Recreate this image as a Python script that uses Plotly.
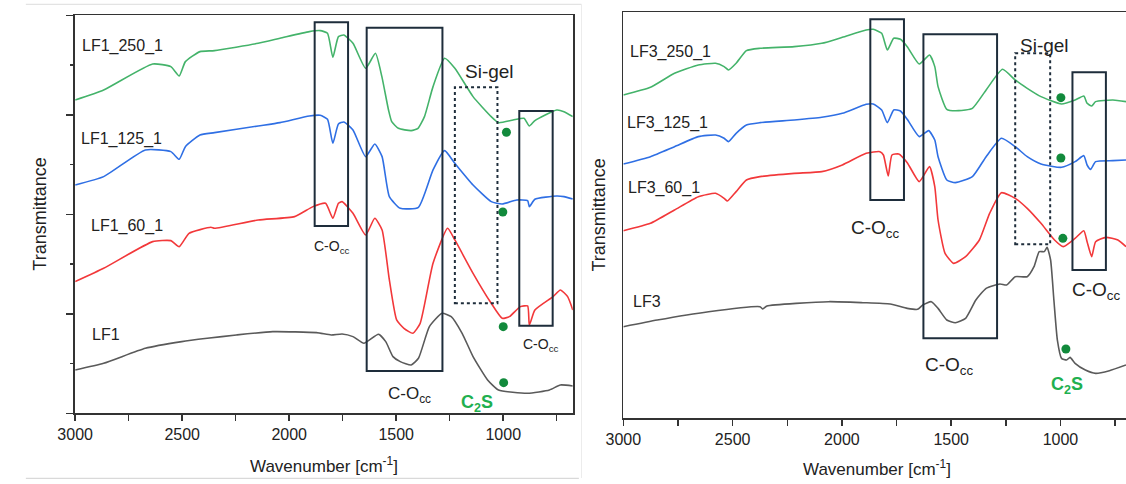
import plotly.graph_objects as go

# ---------------- Left panel (LF1) : wavenumber [cm-1] and transmittance (a.u.) ----------------
lf1_250_w = [3000, 2867, 2638, 2553, 2514, 2485, 2417, 2349, 2145, 2043, 1906, 1855, 1821, 1796, 1770, 1745,
             1702, 1643, 1597, 1567, 1536, 1521, 1490, 1430, 1398, 1368, 1328, 1274, 1226, 1141, 1056, 1022,
             954, 903, 878, 852, 750, 716, 675]
lf1_250_t = [940, 970, 1048, 1040, 1012, 1055, 1085, 1088, 1110, 1125, 1145, 1148, 1140, 1068, 1130, 1135,
             1110, 1035, 1080, 1010, 910, 875, 855, 848, 855, 890, 980, 1065, 1035, 950, 890, 872,
             880, 885, 862, 878, 910, 905, 890]

lf1_125_w = [3000, 2867, 2672, 2553, 2514, 2485, 2417, 2349, 2145, 2043, 1906, 1855, 1821, 1796, 1770, 1745,
             1702, 1643, 1600, 1566, 1532, 1481, 1396, 1328, 1274, 1226, 1141, 1056, 1005, 937, 886, 878,
             852, 750, 716, 675]
lf1_125_t = [685, 710, 790, 785, 762, 800, 835, 842, 862, 872, 892, 894, 882, 810, 868, 874,
             850, 770, 808, 770, 650, 615, 618, 730, 788, 750, 685, 635, 628, 640, 638, 620,
             642, 652, 650, 643]

lf1_60_w = [3000, 2867, 2638, 2553, 2514, 2468, 2366, 2349, 2145, 1975, 1889, 1830, 1796, 1770, 1753, 1702,
            1643, 1600, 1566, 1532, 1498, 1464, 1422, 1388, 1328, 1260, 1226, 1141, 1056, 1005, 971, 920,
            886, 878, 852, 767, 733, 699, 675]
lf1_60_t = [395, 435, 515, 518, 500, 540, 558, 555, 580, 590, 620, 630, 585, 630, 635, 600,
            535, 585, 550, 400, 280, 255, 240, 270, 450, 555, 520, 420, 330, 285, 290, 320,
            322, 265, 310, 350, 370, 350, 310]

lf1_w = [3000, 2867, 2672, 2502, 2383, 2247, 2077, 1872, 1804, 1753, 1702, 1651, 1583, 1549, 1515, 1481,
         1430, 1396, 1345, 1286, 1243, 1192, 1141, 1073, 1022, 886, 784, 733, 675]
lf1_t = [130, 150, 195, 215, 225, 235, 245, 242, 235, 238, 230, 210, 237, 215, 170, 155,
         145, 165, 260, 300, 290, 240, 170, 100, 70, 60, 70, 85, 82]

# ---------------- Right panel (LF3) ----------------
lf3_250_w = [3000, 2876, 2766, 2657, 2578, 2539, 2519, 2484, 2437, 2375, 2218, 2092, 1998, 1889, 1857, 1818,
             1792, 1763, 1732, 1701, 1646, 1599, 1575, 1560, 1520, 1466, 1403, 1340, 1265, 1207, 1152, 1089,
             995, 933, 893, 878, 857, 839, 760, 700]
lf3_250_t = [968, 991, 1033, 1058, 1063, 1053, 1043, 1063, 1101, 1108, 1113, 1123, 1141, 1163, 1165, 1153,
             1103, 1138, 1135, 1113, 1061, 1088, 1053, 993, 925, 921, 928, 983, 1045, 1013, 988, 963,
             941, 953, 965, 943, 935, 948, 953, 948]

lf3_125_w = [3000, 2876, 2766, 2657, 2578, 2539, 2519, 2484, 2437, 2375, 2218, 2092, 1998, 1889, 1857, 1818,
             1792, 1763, 1732, 1701, 1646, 1603, 1575, 1560, 1520, 1481, 1403, 1340, 1270, 1207, 1152, 1089,
             995, 933, 893, 878, 862, 839, 760, 700]
lf3_125_t = [761, 783, 813, 843, 848, 838, 828, 853, 878, 885, 893, 901, 913, 940, 941, 923,
             885, 923, 920, 895, 843, 861, 833, 783, 713, 705, 723, 783, 838, 813, 783, 761,
             751, 768, 786, 758, 745, 768, 771, 773]

lf3_60_w = [3000, 2876, 2766, 2657, 2578, 2539, 2524, 2484, 2437, 2375, 2218, 2092, 1998, 1889, 1826, 1810,
            1788, 1771, 1740, 1701, 1646, 1599, 1575, 1560, 1528, 1489, 1434, 1371, 1324, 1270, 1207, 1152,
            1089, 1027, 987, 933, 893, 878, 857, 839, 792, 737, 700]
lf3_60_t = [561, 583, 623, 663, 673, 658, 650, 678, 713, 723, 733, 738, 758, 793, 798, 788,
            725, 788, 791, 765, 708, 753, 693, 593, 493, 463, 483, 533, 613, 675, 658, 628,
            583, 533, 513, 538, 561, 528, 483, 528, 541, 533, 513]

lf3_w = [3000, 2845, 2610, 2375, 2362, 2343, 2061, 1904, 1779, 1701, 1654, 1630, 1591, 1560, 1520, 1481,
         1434, 1387, 1340, 1277, 1246, 1207, 1152, 1121, 1097, 1074, 1061, 1045, 1030, 1014, 995, 972,
         956, 933, 886, 839, 776, 700]
lf3_t = [273, 293, 318, 333, 326, 335, 348, 345, 341, 328, 325, 338, 348, 328, 293, 285,
         298, 353, 388, 401, 398, 423, 423, 453, 498, 498, 511, 473, 353, 233, 178, 173,
         181, 163, 143, 133, 141, 158]

# C2S markers
left_dot_w = [985, 1002, 1000, 998]
left_dot_t = [843, 604, 260, 92]
right_dot_w = [998, 998, 989, 975]
right_dot_t = [960, 779, 538, 206]

# band boxes [w_left, w_right, t_bottom, t_top]
left_boxes = [[1881, 1725, 562, 1173], [1638, 1284, 127, 1157], [925, 769, 263, 907]]
left_sigel = [1226, 1027, 330, 978]
right_boxes = [[1870, 1716, 653, 1195], [1627, 1290, 238, 1150], [945, 792, 443, 1036]]
right_sigel = [1207, 1047, 520, 1093]

tick_vals = [3000, 2500, 2000, 1500, 1000]
tick_text = ["3000", "2500", "2000", "1500", "1000"]

GREEN = "#44b36a"
BLUE = "#2f6fe4"
RED = "#f2383a"
GREY = "#5a5a5a"
DOT = "#128a3c"
C2S_COL = "#1fb04f"
BOX = "#1e2d3b"
AX = "#333333"
FONT = "Liberation Sans, Arial, sans-serif"

fig = go.Figure()

def add_line(w, t, color, xa, ya):
    fig.add_trace(go.Scatter(x=w, y=t, mode="lines",
                             line=dict(color=color, width=1.6, shape="spline", smoothing=0.5),
                             xaxis=xa, yaxis=ya, hoverinfo="skip", showlegend=False))

add_line(lf1_250_w, lf1_250_t, GREEN, "x", "y")
add_line(lf1_125_w, lf1_125_t, BLUE, "x", "y")
add_line(lf1_60_w, lf1_60_t, RED, "x", "y")
add_line(lf1_w, lf1_t, GREY, "x", "y")
add_line(lf3_250_w, lf3_250_t, GREEN, "x2", "y2")
add_line(lf3_125_w, lf3_125_t, BLUE, "x2", "y2")
add_line(lf3_60_w, lf3_60_t, RED, "x2", "y2")
add_line(lf3_w, lf3_t, GREY, "x2", "y2")

fig.add_trace(go.Scatter(x=left_dot_w, y=left_dot_t, mode="markers", marker=dict(color=DOT, size=9),
                         xaxis="x", yaxis="y", showlegend=False, hoverinfo="skip"))
fig.add_trace(go.Scatter(x=right_dot_w, y=right_dot_t, mode="markers", marker=dict(color=DOT, size=9),
                         xaxis="x2", yaxis="y2", showlegend=False, hoverinfo="skip"))

shapes = []
for b in left_boxes:
    shapes.append(dict(type="rect", xref="x", yref="y", x0=b[0], x1=b[1], y0=b[2], y1=b[3],
                       line=dict(color=BOX, width=2)))
shapes.append(dict(type="rect", xref="x", yref="y", x0=left_sigel[0], x1=left_sigel[1],
                   y0=left_sigel[2], y1=left_sigel[3], line=dict(color=BOX, width=2, dash="dot")))
for b in right_boxes:
    shapes.append(dict(type="rect", xref="x2", yref="y2", x0=b[0], x1=b[1], y0=b[2], y1=b[3],
                       line=dict(color=BOX, width=2)))
shapes.append(dict(type="rect", xref="x2", yref="y2", x0=right_sigel[0], x1=right_sigel[1],
                   y0=right_sigel[2], y1=right_sigel[3], line=dict(color=BOX, width=2, dash="dot")))

# light page borders of the original screenshot
W, H = 1126, 484
shapes.append(dict(type="line", xref="paper", yref="paper", x0=8 / W, x1=572.7 / W, y0=1 - 4.3 / H, y1=1 - 4.3 / H,
                   line=dict(color="#dcdcdc", width=1)))
shapes.append(dict(type="line", xref="paper", yref="paper", x0=8 / W, x1=570 / W, y0=1 - 478.3 / H, y1=1 - 478.3 / H,
                   line=dict(color="#d0d0d0", width=1)))
shapes.append(dict(type="line", xref="paper", yref="paper", x0=572.7 / W, x1=572.7 / W, y0=1 - 4.3 / H, y1=1 - 478 / H,
                   line=dict(color="#ececec", width=1)))

ann = []
def lab(x, y, text, xa, ya, size=16, anchor="left", color="#222222", **kw):
    ann.append(dict(x=x, y=y, xref=xa, yref=ya, text=text, showarrow=False, xanchor=anchor, yanchor="middle",
                    font=dict(family=FONT, size=size, color=color), **kw))

# left labels
lab(2978, 1103, "LF1_250_1", "x", "y")
lab(2983, 822, "LF1_125_1", "x", "y")
lab(2935, 563, "LF1_60_1", "x", "y")
lab(2932, 235, "LF1", "x", "y")
lab(1065, 1025, "Si-gel", "x", "y", size=19, anchor="center")
lab(1799, 500, "C-O<sub>cc</sub>", "x", "y", size=14, anchor="center")
lab(1440, 55, "C-O<sub>cc</sub>", "x", "y", size=17, anchor="center")
lab(825, 205, "C-O<sub>cc</sub>", "x", "y", size=14, anchor="center")
lab(1121, 30, "<b>C<sub>2</sub>S</b>", "x", "y", size=18, anchor="center", color=C2S_COL)

# right labels
lab(2981, 1098, "LF3_250_1", "x2", "y2")
lab(2991, 883, "LF3_125_1", "x2", "y2")
lab(2986, 690, "LF3_60_1", "x2", "y2")
lab(2967, 348, "LF3", "x2", "y2")
lab(1075, 1116, "Si-gel", "x2", "y2", size=19, anchor="center")
lab(1848, 566, "C-O<sub>cc</sub>", "x2", "y2", size=19, anchor="center")
lab(1511, 156, "C-O<sub>cc</sub>", "x2", "y2", size=19, anchor="center")
lab(839, 381, "C-O<sub>cc</sub>", "x2", "y2", size=19, anchor="center")
lab(969, 98, "<b>C<sub>2</sub>S</b>", "x2", "y2", size=18, anchor="center", color=C2S_COL)

# axis titles
for (xp, yp) in [(310.8, 465), (873, 468)]:
    ann.append(dict(x=xp / W, y=1 - yp / H, xref="paper", yref="paper", showarrow=False,
                    text="Wavenumber [cm<sup>-1</sup>]", xanchor="center", yanchor="middle",
                    font=dict(family=FONT, size=17, color="#222222")))
for (xp, yp) in [(22, 214), (590, 215)]:
    ann.append(dict(x=xp / W, y=1 - yp / H, xref="paper", yref="paper", showarrow=False, textangle=-90,
                    text="Transmittance", xanchor="center", yanchor="middle",
                    font=dict(family=FONT, size=18, color="#222222")))

xcommon = dict(tickmode="array", tickvals=tick_vals, ticktext=tick_text, ticks="outside", ticklen=6,
               tickwidth=1.5, tickcolor=AX, showline=True, linecolor=AX, linewidth=1.8, showgrid=False,
               zeroline=False, tickfont=dict(family=FONT, size=16, color="#222222"),
               minor=dict(dtick=250, tick0=0, ticks="outside", ticklen=6, tickwidth=1.5, tickcolor=AX))

fig.update_layout(
    width=W, height=H, margin=dict(l=0, r=0, t=0, b=0),
    paper_bgcolor="white", plot_bgcolor="white", showlegend=False, hovermode=False,
    xaxis=dict(domain=[58.1 / W, 563.8 / W], range=[3000, 675], anchor="y", mirror=True, **xcommon),
    yaxis=dict(domain=[1 - 413.3 / H, 1 - 15.3 / H], range=[0, 1194], anchor="x", showline=True, mirror=True,
               linecolor=AX, linewidth=1.8, showgrid=False, zeroline=False, showticklabels=False,
               tickmode="linear", tick0=0, dtick=298.5, ticks="outside", ticklen=7, tickwidth=1.5, tickcolor=AX,
               minor=dict(tick0=0, dtick=149.25, ticks="outside", ticklen=3.5, tickwidth=1.5, tickcolor=AX)),
    xaxis2=dict(domain=[615.2 / W, 1.0], range=[3000, 700], anchor="y2", mirror=True, **xcommon),
    yaxis2=dict(domain=[1 - 417.7 / H, 1 - 12.3 / H], range=[0, 1216], anchor="x2", showline=True, mirror=False,
                linecolor=AX, linewidth=1.8, showgrid=False, zeroline=False, showticklabels=False, ticks=""),
    shapes=shapes, annotations=ann,
)

fig.write_html("out.html", config={"displayModeBar": False, "staticPlot": True})

# remove the browser's default body margin so the figure sits at the window origin
with open("out.html", "r", encoding="utf-8") as f:
    html = f.read()
html = html.replace("<head>", "<head><style>html,body{margin:0;padding:0;overflow:hidden;}</style>", 1)
with open("out.html", "w", encoding="utf-8") as f:
    f.write(html)
